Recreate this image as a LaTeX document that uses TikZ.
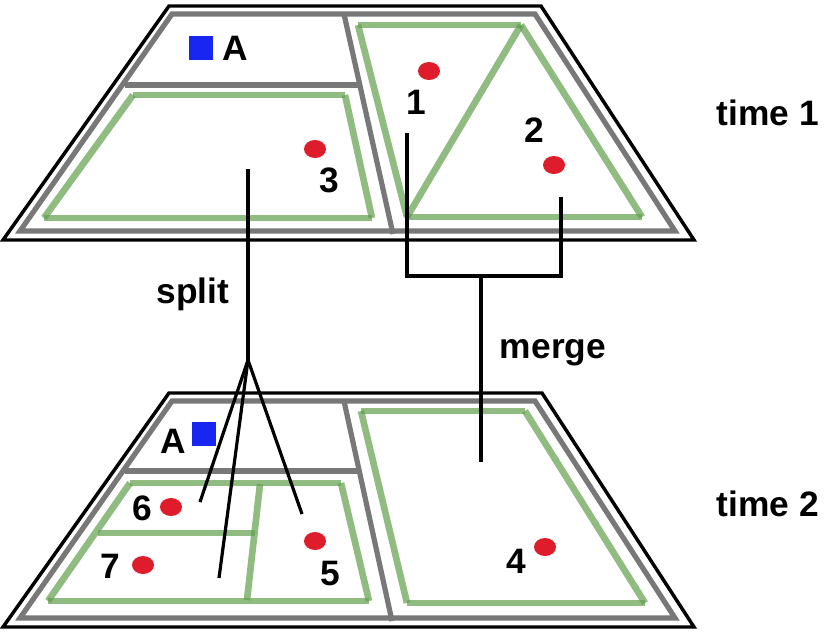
\documentclass[tikz,border=0pt]{standalone}
\usepackage{fontspec}
\setmainfont{Liberation Sans}
\usepackage{tikz}
\usetikzlibrary{shapes.geometric}

\definecolor{mapgray}{rgb}{0.47,0.47,0.47}
\definecolor{zonegreen}{rgb}{0.38,0.62,0.30}
\definecolor{dotred}{rgb}{0.87,0.11,0.17}
\definecolor{squareblue}{rgb}{0.10,0.15,0.95}

\tikzset{
  outline/.style={draw=black,line width=2.6pt,line join=miter},
  border/.style={draw=mapgray,line width=3.9pt},
  zone/.style={draw=zonegreen,draw opacity=0.7,line width=5pt,line cap=butt},
  link/.style={draw=black,line width=2.4pt},
  reddot/.style={shape=ellipse,fill=dotred,inner sep=0pt,minimum width=16.5pt,minimum height=13.5pt},
  bluesquare/.style={fill=squareblue,inner sep=0pt,minimum size=18pt},
  label/.style={font=\fontsize{26.5}{30}\selectfont\bfseries,inner sep=0pt}
}

\begin{document}
\begin{tikzpicture}[x=0.75pt,y=0.75pt,yscale=-1,xscale=1]
\useasboundingbox (0,0) rectangle (827,636);

%Top map
\draw [outline] (169,6) -- (541,6) -- (694,240) -- (3,240) -- cycle ;
\draw [border] (172,14) -- (535,14) -- (675,231) -- (20,231) -- cycle ;
\draw [border] (344,14) -- (393,234) ;
\draw [border] (125,85) -- (358,85) ;
\draw [zone] (133,95) -- (345,95) ;
\draw [zone] (345,95) -- (372,218) ;
\draw [zone] (372,218) -- (44,218) ;
\draw [zone] (44,218) -- (133,95) ;
\draw [zone] (358,25) -- (521,25) ;
\draw [zone] (521,25) -- (642,217) ;
\draw [zone] (642,217) -- (407,217) ;
\draw [zone] (407,217) -- (358,25) ;
\draw [zone] (521,25) -- (407,217) ;

%Bottom map
\draw [outline] (169,393) -- (542,393) -- (694,627) -- (3,627) -- cycle ;
\draw [border] (172,401) -- (535,401) -- (675,618) -- (20,618) -- cycle ;
\draw [border] (344,401) -- (392,621) ;
\draw [border] (125,471) -- (358,471) ;
\draw [zone] (130,483) -- (341,483) ;
\draw [zone] (341,483) -- (369,601) ;
\draw [zone] (369,601) -- (48,601) ;
\draw [zone] (48,601) -- (130,483) ;
\draw [zone] (260,484) -- (247,600) ;
\draw [zone] (98,533) -- (255,533) ;
\draw [zone] (361,411) -- (525,411) ;
\draw [zone] (525,411) -- (645,603) ;
\draw [zone] (645,603) -- (407,603) ;
\draw [zone] (407,603) -- (361,411) ;

%Squares and dots
\node [bluesquare] (squaretop) at (201,48) {};
\node [bluesquare] (squarebottom) at (204,434) {};
\node [reddot] (dot1) at (429,71) {};
\node [reddot] (dot2) at (554,165) {};
\node [reddot] (dot3) at (315,149) {};
\node [reddot] (dot4) at (545,547) {};
\node [reddot] (dot5) at (315,541) {};
\node [reddot] (dot6) at (171,507) {};
\node [reddot] (dot7) at (143,565) {};

%Connector ends
\coordinate (regionone) at (407,133);
\coordinate (regiontwo) at (561,197);
\coordinate (regionthree) at (248,169);
\coordinate (regionfour) at (481,462);
\coordinate (regionfive) at (302,514);
\coordinate (regionsix) at (200,502);
\coordinate (regionseven) at (219,578);
\coordinate (splitpoint) at (248,360);
\coordinate (mergeleft) at (407,276);
\coordinate (mergeright) at (561,276);
\coordinate (mergepoint) at (481,276);

%Split lines
\draw [link] (regionthree) -- (splitpoint) ;
\draw [link] (splitpoint) -- (regionsix) ;
\draw [link] (splitpoint) -- (regionseven) ;
\draw [link] (splitpoint) -- (regionfive) ;

%Merge lines
\draw [link] (regionone) -- (mergeleft) -- (mergeright) -- (regiontwo) ;
\draw [link] (mergepoint) -- (regionfour) ;

% Text Node
\node [label] (labelatop) at (235,48) {A};
\node [label] (labelabottom) at (173,441) {A};
\node [label] (label1) at (416,102) {1};
\node [label] (label2) at (534,130) {2};
\node [label] (label3) at (329,180) {3};
\node [label] (label4) at (516,561) {4};
\node [label] (label5) at (330,574) {5};
\node [label] (label6) at (142,508) {6};
\node [label] (label7) at (110,566) {7};
\node [label] (split) at (193,294) {split};
\node [label] (merge) at (553,353) {merge};
\node [label] (timeone) at (768,113) {time 1};
\node [label] (timetwo) at (768,504) {time 2};

\end{tikzpicture}
\end{document}
